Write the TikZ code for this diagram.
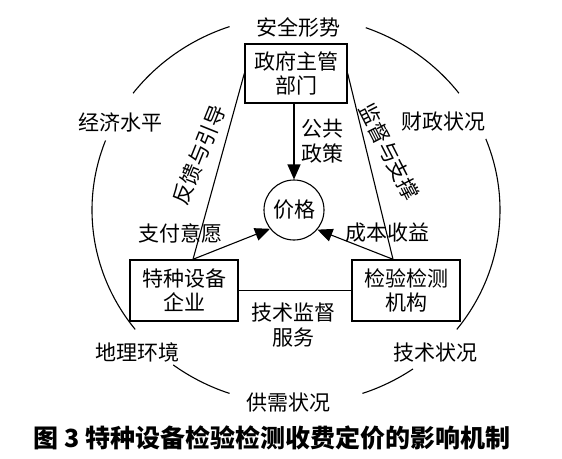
\documentclass[tikz,border=0pt]{standalone}
\usepackage{fontspec}
\setmainfont{Noto Sans CJK SC}
\usetikzlibrary{arrows.meta,calc}

\begin{document}
\begin{tikzpicture}[x=1pt,y=-1pt,
    kuang/.style={draw, line width=1.4pt, minimum width=102pt, minimum height=59pt,
        align=center, inner sep=0pt, font=\fontsize{21}{24}\selectfont},
    yinsu/.style={inner sep=1pt, font=\fontsize{21}{24}\selectfont},
    wenzi/.style={align=center, inner sep=1pt, font=\fontsize{21}{25}\selectfont},
    jiantou/.style={-{Triangle[width=13pt,length=15pt]}, line width=1.1pt}]
  \useasboundingbox (0,0) rectangle (562,458);
  % outer ring, broken at the labels
  \foreach \a/\b in {37/70, 109/143, 159/218, 233/251, 289/305, 322/381.5}
    \draw[line width=1.1pt] ([shift={(\a:204pt and 194pt)}]296,210)
      arc[start angle=\a, end angle=\b, x radius=204pt, y radius=194pt];
  \node[yinsu] (anquan) at (298,27) {安全形势};
  \node[yinsu] (jingji) at (120,122) {经济水平};
  \node[yinsu] (caizheng) at (443,122) {财政状况};
  \node[yinsu] (dili) at (137,352) {地理环境};
  \node[yinsu] (jishu) at (435,353) {技术状况};
  \node[yinsu] (gongxu) at (288,403) {供需状况};

  % actors
  \node[kuang] (zhengfu) at (296,73.5) {政府主管\\部门};
  \node[kuang, minimum width=108pt, minimum height=61pt] (qiye) at (184,290.5) {特种设备\\企业};
  \node[kuang, minimum width=108pt, minimum height=61pt] (jigou) at (406,290.5) {检验检测\\机构};
  \node[draw, circle, line width=1.1pt, minimum size=60pt, inner sep=0pt,
        font=\fontsize{21}{24}\selectfont] (jiage) at (294,210) {价格};

  \coordinate (zuojiao) at ($(qiye.north)+(9,0)$);
  \coordinate (youjiao) at ($(jigou.north)+(-13,0)$);

  % links
  \draw[jiantou] (zhengfu.south -| jiage.north) -- (jiage.north);
  \draw[line width=1.1pt] (zhengfu.west) -- (zuojiao);
  \draw[line width=1.1pt] (zhengfu.east) -- (youjiao);
  \draw[jiantou] (zuojiao) -- (jiage.218);
  \draw[jiantou] (youjiao) -- (jiage.320);
  \draw[line width=1.1pt] (qiye.east) -- (jigou.west);

  % link labels
  \node[wenzi] (gonggong) at (322,141) {公共\\政策};
  \node[wenzi] (zhifu) at (180,233) {支付意愿};
  \node[wenzi] (chengben) at (387,233) {成本收益};
  \node[wenzi] (jiandu) at (293,325) {技术监督\\服务};
  \node[wenzi, rotate=68] (fankui) at (199,155) {反馈与引导};
  \node[wenzi, rotate=-63] (zhicheng) at (389,152) {监督与支撑};

  % caption
  \node[font=\fontsize{25}{29}\selectfont\bfseries, inner sep=0pt] (tiaoti) at (272,438)
    {图 3 特种设备检验检测收费定价的影响机制};
\end{tikzpicture}
\end{document}
